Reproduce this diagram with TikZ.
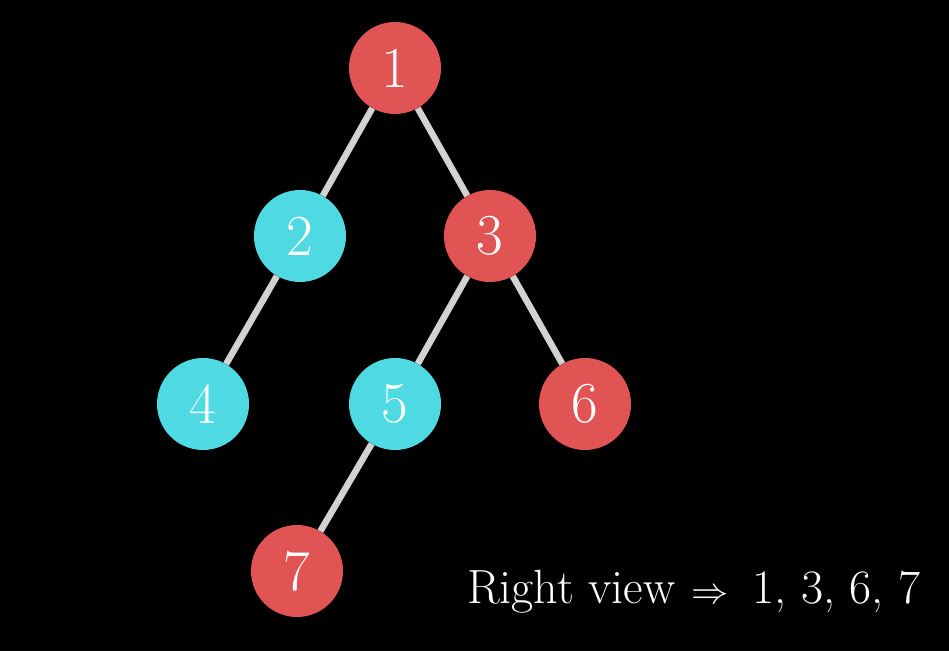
\documentclass[tikz,border=0pt]{standalone}
\usepackage{graphicx}
\usepackage{tikz}
\begin{document}
\begin{tikzpicture}[x=1pt,y=-1pt,
  nd/.style={circle,minimum size=92pt,inner sep=0pt,text=white,font=\fontsize{58}{60}\selectfont},
  rednode/.style={nd,fill=nred},
  cyannode/.style={nd,fill=ncyan},
  edge/.style={draw=egray,line width=6.5pt}]
\definecolor{nred}{HTML}{E05553}
\definecolor{ncyan}{HTML}{4FD9E2}
\definecolor{egray}{HTML}{D2D2D2}
\fill[black] (0,0) rectangle (949,651);
\useasboundingbox (0,0) rectangle (949,651);
\node[rednode] (n1) at (395,68) {1};
\node[cyannode] (n2) at (300,236) {2};
\node[rednode] (n3) at (490,236) {3};
\node[cyannode] (n4) at (203,404) {4};
\node[cyannode] (n5) at (395,404) {5};
\node[rednode] (n6) at (585,404) {6};
\node[rednode] (n7) at (297,571) {7};
\draw[edge] (n1) -- (n2);
\draw[edge] (n1) -- (n3);
\draw[edge] (n2) -- (n4);
\draw[edge] (n3) -- (n5);
\draw[edge] (n3) -- (n6);
\draw[edge] (n5) -- (n7);
\node[anchor=base west,text=white,inner sep=0pt,font=\fontsize{48}{50}\selectfont] (lbl) at (467,603) {Right view\hspace{16pt}\scalebox{1.5}{$\Rightarrow$}\hspace{24pt}1, 3, 6, 7};
\end{tikzpicture}
\end{document}
